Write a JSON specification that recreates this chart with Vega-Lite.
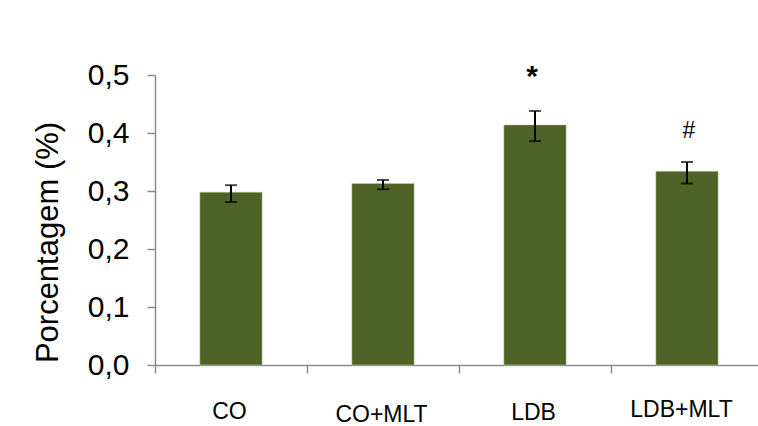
{
  "$schema": "https://vega.github.io/schema/vega-lite/v6.json",
  "width": 603,
  "height": 290,
  "autosize": {"type": "none"},
  "padding": {"left": 155, "top": 75, "right": 0, "bottom": 61},
  "background": "white",
  "config": {"view": {"stroke": null}, "font": "Liberation Sans"},
  "data": {"values": [
    {"grupo": "CO", "media": 0.298, "inferior": 0.281, "superior": 0.310, "sig": ""},
    {"grupo": "CO+MLT", "media": 0.313, "inferior": 0.303, "superior": 0.319, "sig": ""},
    {"grupo": "LDB", "media": 0.414, "inferior": 0.386, "superior": 0.438, "sig": "*"},
    {"grupo": "LDB+MLT", "media": 0.334, "inferior": 0.313, "superior": 0.350, "sig": "#"}
  ]},
  "encoding": {
    "x": {
      "field": "grupo",
      "type": "nominal",
      "sort": null,
      "scale": {"range": [0, 608], "paddingInner": 0, "paddingOuter": 0},
      "axis": {
        "title": null,
        "labelAngle": 0,
        "labelFontSize": 23,
        "labelColor": "black",
        "labelFont": "Liberation Sans",
        "labelPadding": {"condition": [
          {"test": "datum.value === 'CO+MLT'", "value": 30},
          {"test": "datum.value === 'LDB'", "value": 28},
          {"test": "datum.value === 'LDB+MLT'", "value": 25}
        ], "value": 27},
        "labelOffset": {"condition": [
          {"test": "datum.value === 'LDB+MLT'", "value": -6}
        ], "value": -2},
        "tickBand": "extent",
        "tickSize": 8,
        "tickColor": "#8c8c8c",
        "tickWidth": 1.5,
        "domainColor": "#8c8c8c",
        "domainWidth": 1.5
      }
    }
  },
  "layer": [
    {
      "mark": {"type": "bar", "color": "#4f6228", "width": {"band": 0.41}, "stroke": "#c8d0b0", "strokeWidth": 0.5},
      "encoding": {
        "y": {
          "field": "media",
          "type": "quantitative",
          "title": "Porcentagem (%)",
          "scale": {"domain": [0, 0.5], "nice": false, "zero": true},
          "axis": {
            "title": "Porcentagem (%)",
            "titleFontSize": 31,
            "titleFontWeight": "normal",
            "titleColor": "black",
            "titleFont": "Liberation Sans",
            "titlePadding": 23,
            "titleY": 167,
            "values": [0, 0.1, 0.2, 0.3, 0.4, 0.5],
            "labelExpr": "replace(format(datum.value, '.1f'), '.', ',')",
            "labelFontSize": 30,
            "labelColor": "black",
            "labelFont": "Liberation Sans",
            "labelPadding": 18,
            "tickSize": 8,
            "tickColor": "#8c8c8c",
            "tickWidth": 1.5,
            "domainColor": "#8c8c8c",
            "domainWidth": 1.5,
            "grid": false
          }
        }
      }
    },
    {
      "mark": {"type": "errorbar", "ticks": {"size": 12, "thickness": 2, "color": "black"}, "rule": {"strokeWidth": 2, "color": "black"}},
      "encoding": {
        "y": {"field": "inferior", "type": "quantitative", "title": "Porcentagem (%)"},
        "y2": {"field": "superior"}
      }
    },
    {
      "transform": [{"filter": "datum.sig === '*'"}],
      "mark": {"type": "text", "fontSize": 30, "fontWeight": "bold", "baseline": "alphabetic", "dy": -25, "dx": -3, "color": "black", "font": "Liberation Sans"},
      "encoding": {
        "y": {"field": "superior", "type": "quantitative", "title": "Porcentagem (%)"},
        "text": {"field": "sig"}
      }
    },
    {
      "transform": [{"filter": "datum.sig === '#'"}],
      "mark": {"type": "text", "fontSize": 23, "baseline": "alphabetic", "dy": -24, "dx": 2, "color": "black", "font": "Liberation Sans"},
      "encoding": {
        "y": {"field": "superior", "type": "quantitative", "title": "Porcentagem (%)"},
        "text": {"field": "sig"}
      }
    }
  ]
}
